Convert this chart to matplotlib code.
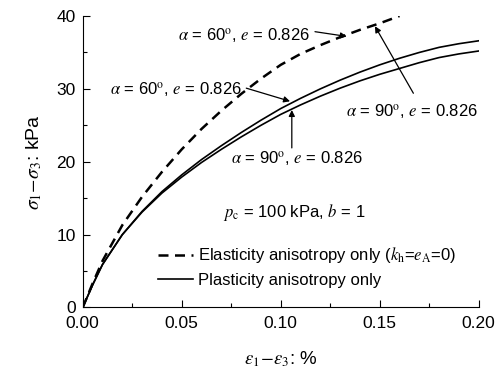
import matplotlib
matplotlib.use("Agg")
import matplotlib.pyplot as plt
from matplotlib.ticker import MultipleLocator

plt.rcParams['font.family'] = ['Liberation Sans', 'DejaVu Sans']
plt.rcParams['mathtext.fontset'] = 'stix'

# %% data
strain = [0, 0.005, 0.01, 0.02, 0.03, 0.04, 0.05, 0.06, 0.07, 0.08, 0.09, 0.10,
          0.11, 0.12, 0.13, 0.14, 0.15, 0.16, 0.17, 0.18, 0.19, 0.20]

# elasticity anisotropy only (dashed), runs off the top of the plot
elastic_strain = [0, 0.005, 0.01, 0.02, 0.03, 0.04, 0.05, 0.06, 0.07, 0.08, 0.09,
                  0.10, 0.11, 0.12, 0.13, 0.14, 0.15, 0.16]
elastic_q = [0, 3.3, 6.4, 11.3, 15.2, 18.6, 21.7, 24.5, 27.0, 29.3, 31.4,
             33.3, 34.8, 36.0, 37.1, 38.1, 39.0, 40.0]

# plasticity anisotropy only, alpha = 60 and alpha = 90
plastic_q_60 = [0, 3.1, 5.9, 10.0, 13.2, 15.9, 18.2, 20.3, 22.2, 24.0, 25.7, 27.3,
                28.7, 30.0, 31.2, 32.3, 33.3, 34.2, 35.0, 35.7, 36.2, 36.6]
plastic_q_90 = [0, 3.1, 5.9, 10.0, 13.1, 15.7, 17.9, 19.9, 21.7, 23.4, 25.0, 26.5,
                27.8, 29.0, 30.1, 31.1, 32.0, 32.8, 33.6, 34.3, 34.8, 35.2]

lbl_60 = r'$\alpha$ = 60$^{\rm o}$, $e$ = 0.826'
lbl_90 = r'$\alpha$ = 90$^{\rm o}$, $e$ = 0.826'

# %% plot
fig = plt.figure(figsize=(4.98, 3.76), dpi=100)
ax = fig.add_axes([0.1661, 0.1822, 0.7952, 0.7752])

ax.plot(elastic_strain, elastic_q, color='black', lw=1.8, ls=(0, (4, 2.6)),
        label=r'Elasticity anisotropy only ($k_{\rm h}$=$e_{\rm A}$=0)')
ax.plot(strain, plastic_q_60, color='black', lw=1.2,
        label='Plasticity anisotropy only')
ax.plot(strain, plastic_q_90, color='black', lw=1.2)

ax.set_xlim(0, 0.2)
ax.set_ylim(0, 40)
ax.xaxis.set_major_locator(MultipleLocator(0.05))
ax.xaxis.set_minor_locator(MultipleLocator(0.025))
ax.yaxis.set_major_locator(MultipleLocator(10))
ax.yaxis.set_minor_locator(MultipleLocator(5))
ax.xaxis.set_major_formatter(plt.FormatStrFormatter('%.2f'))
ax.tick_params(which='both', direction='in', labelsize=12.5, width=0.8)
ax.tick_params(which='major', length=5)
ax.tick_params(which='minor', length=3)
ax.tick_params(axis='y', pad=5)
ax.tick_params(axis='x', pad=6)
ax.spines['top'].set_visible(False)
ax.spines['right'].set_visible(False)

ax.set_xlabel(r'$\varepsilon_1\!-\!\varepsilon_3$: %', fontsize=13.5, labelpad=13)
ax.set_ylabel(r'$\sigma_1\!-\!\sigma_3$: kPa', fontsize=14, labelpad=9)

# annotations: texts and arrows placed separately
arrow = dict(arrowstyle='-|>', color='black', lw=0.9, mutation_scale=9,
             shrinkA=0, shrinkB=0)
ax.text(0.1148, 37.35, lbl_60, fontsize=12, ha='right', va='center')
ax.annotate('', xy=(0.1333, 37.2), xytext=(0.1173, 37.85), arrowprops=arrow)

ax.text(0.0805, 29.9, lbl_60, fontsize=12, ha='right', va='center')
ax.annotate('', xy=(0.1047, 28.3), xytext=(0.0826, 30.1), arrowprops=arrow)

ax.text(0.1416, 20.4, lbl_90, fontsize=12, ha='right', va='center')
ax.annotate('', xy=(0.1056, 27.1), xytext=(0.1056, 21.9), arrowprops=arrow)

ax.text(0.1997, 26.9, lbl_90, fontsize=12, ha='right', va='center')
ax.annotate('', xy=(0.1476, 38.6), xytext=(0.167, 29.4), arrowprops=arrow)

ax.text(0.071, 13.1, r'$p_{\rm c}$ = 100 kPa, $b$ = 1', fontsize=12,
        ha='left', va='center')

ax.legend(loc='upper left', bbox_to_anchor=(0.19, 0.213), frameon=False,
          fontsize=12, handlelength=2.1, handletextpad=0.3, labelspacing=0.45,
          borderpad=0, borderaxespad=0)

fig.savefig('out.png', dpi=100)
